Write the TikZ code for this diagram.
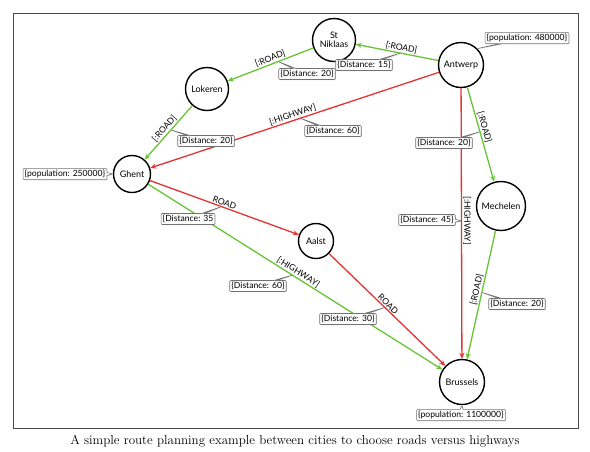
\documentclass[tikz,border=0pt]{standalone}
\usepackage{fontspec}
\newfontfamily\gillfont{Lato}
\usetikzlibrary{shapes.callouts,shadows,arrows.meta}
\definecolor{roadgreen}{RGB}{104,196,52}
\definecolor{highwayred}{RGB}{226,52,52}
\definecolor{propgray}{RGB}{115,115,115}
\begin{document}
\begin{tikzpicture}
[x=1pt,y=-1pt,
  citydecorate/.style={shape=circle,draw,line width=1.4pt,inner sep=0pt,align=center,font=\gillfont\fontsize{9}{9.5}\selectfont},%
  roaddecorate/.style={-{Stealth[length=6pt,width=5pt]},draw=roadgreen,line width=1.3pt},%
  highwaydecorate/.style={-{Stealth[length=6pt,width=5pt]},draw=highwayred,line width=1.3pt},%
  typedecorate/.style={sloped,above,inner sep=1pt,font=\gillfont\fontsize{8.6}{8.6}\selectfont},%
  propdecorate/.style={rectangle callout,draw=propgray,fill=white,line width=0.6pt,rounded corners=1pt,inner sep=1.6pt,callout pointer width=3pt,font=\gillfont\fontsize{8.6}{8.6}\selectfont,drop shadow={shadow xshift=0.7pt,shadow yshift=-0.7pt,opacity=0.3}}]
\useasboundingbox (0,0) rectangle (590,451);
\draw[draw=black!70,line width=1pt] (13,13) rectangle (578,428);
% nodes or cities
\node (Antwerp) at (461,65) [citydecorate,minimum size=45pt] {Antwerp};
\node (StNiklaas) at (334,40) [citydecorate,minimum size=43pt] {St\\Niklaas};
\node (Lokeren) at (207,89) [citydecorate,minimum size=43pt] {Lokeren};
\node (Ghent) at (132,174) [citydecorate,minimum size=37pt] {Ghent};
\node (Aalst) at (316,241) [citydecorate,minimum size=35pt] {Aalst};
\node (Mechelen) at (501,206) [citydecorate,minimum size=49pt] {Mechelen};
\node (Brussels) at (462,382) [citydecorate,minimum size=45pt] {Brussels};
% edges or roads
\path
(Antwerp) edge[roaddecorate] node[typedecorate,pos=0.46]{[:ROAD]} node[coordinate,pos=0.46] (dAS) {} (StNiklaas)
(StNiklaas) edge[roaddecorate] node[typedecorate,pos=0.48]{[:ROAD]} node[coordinate,pos=0.41] (dSL) {} (Lokeren)
(Antwerp) edge[highwaydecorate] node[typedecorate,pos=0.5]{[:HIGHWAY]} node[coordinate,pos=0.48] (dAG) {} (Ghent)
(Lokeren) edge[roaddecorate] node[typedecorate,pos=0.5]{[:ROAD]} node[coordinate,pos=0.45] (dLG) {} (Ghent)
(Ghent) edge[highwaydecorate] node[typedecorate,pos=0.49]{ROAD} node[coordinate,pos=0.48] (dGA) {} (Aalst)
(Ghent) edge[roaddecorate] node[typedecorate,pos=0.5]{[:HIGHWAY]} node[coordinate,pos=0.49] (dGB) {} (Brussels)
(Aalst) edge[highwaydecorate] node[typedecorate,pos=0.48]{ROAD} node[coordinate,pos=0.48] (dAB) {} (Brussels)
(Antwerp) edge[highwaydecorate] node[typedecorate,pos=0.49]{[:HIGHWAY]} node[coordinate,pos=0.49] (dAW) {} (Brussels)
(Antwerp) edge[roaddecorate] node[typedecorate,pos=0.44]{[:ROAD]} node[coordinate,pos=0.47] (dAM) {} (Mechelen)
(Mechelen) edge[roaddecorate] node[typedecorate,pos=0.47]{[:ROAD]} node[coordinate,pos=0.48] (dMB) {} (Brussels);
% properties
\node (pAntwerp) at (527,38) [propdecorate,callout absolute pointer={(Antwerp.45)}] {\{population: 480000\}};
\node (pGhent) at (65,174) [propdecorate,callout absolute pointer={(Ghent.west)}] {\{population: 250000\}};
\node (pBrussels) at (461,415) [propdecorate,callout absolute pointer={(Brussels.south)}] {\{population: 1100000\}};
\node (lAS) at (364,65) [propdecorate,callout absolute pointer={(dAS)}] {\{Distance: 15\}};
\node (lSL) at (307,74) [propdecorate,callout absolute pointer={(dSL)}] {\{Distance: 20\}};
\node (lAG) at (333,131) [propdecorate,callout absolute pointer={(dAG)}] {\{Distance: 60\}};
\node (lLG) at (206,141) [propdecorate,callout absolute pointer={(dLG)}] {\{Distance: 20\}};
\node (lGA) at (188,219) [propdecorate,callout absolute pointer={(dGA)}] {\{Distance: 35};
\node (lGB) at (258,286) [propdecorate,callout absolute pointer={(dGB)}] {\{Distance: 60\}};
\node (lAB) at (348,319) [propdecorate,callout absolute pointer={(dAB)}] {\{Distance: 30\}};
\node (lAW) at (427,220) [propdecorate,callout absolute pointer={(dAW)}] {\{Distance: 45\}};
\node (lAM) at (444,143) [propdecorate,callout absolute pointer={(dAM)}] {\{Distance: 20\}};
\node (lMB) at (517,304) [propdecorate,callout absolute pointer={(dMB)}] {\{Distance: 20\}};
% caption
\node (caption) at (295,441) [font=\fontsize{13}{15}\selectfont] {A simple route planning example between cities to choose roads versus highways};
\end{tikzpicture}
\end{document}
